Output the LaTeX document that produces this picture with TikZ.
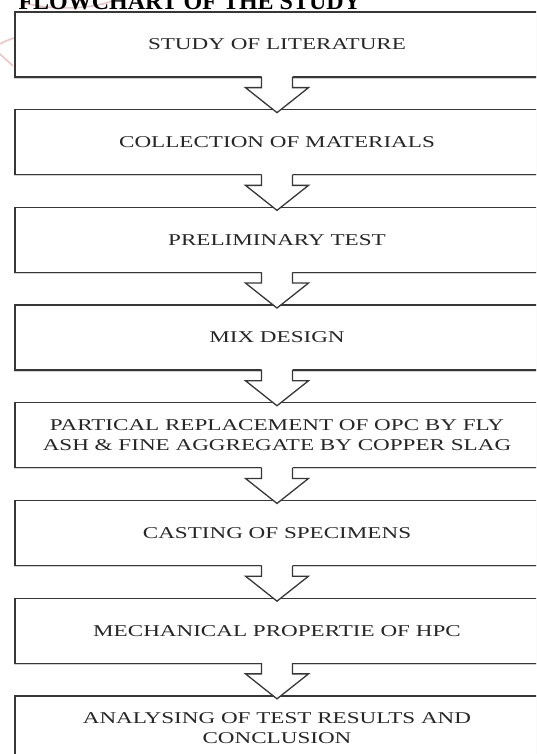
\documentclass[tikz,border=0pt]{standalone}
\usepackage{fontspec}
\setmainfont{Liberation Serif}
\newfontfamily\boxfont[FakeStretch=1.4]{Liberation Serif}
\usetikzlibrary{positioning,calc,shadows}
\definecolor{edgegray}{RGB}{55,55,55}
\definecolor{stamp}{RGB}{236,196,196}

\begin{document}
\begin{tikzpicture}[x=1pt,y=1pt,node distance=31.4pt,
    stepbox/.style={draw=edgegray,line width=1.3pt,fill=white,
      minimum width=524pt,minimum height=65pt,inner sep=0pt,align=center,
      font=\boxfont\fontsize{16.5}{20}\selectfont,text=black!85,
      drop shadow={shadow xshift=-1.2pt,shadow yshift=-1.6pt,fill=black!30,opacity=.6}},
    flowline/.style={edgegray,line width=1.3pt,line join=miter}]
\useasboundingbox (0,0) rectangle (536,-754);
\begin{scope}[overlay]
\clip (0,0) rectangle (536,-754);

\draw[stamp,line width=1.6pt] (22,-2) .. controls (45,-10) and (90,-10) .. (112,-1);
\draw[stamp,line width=1.6pt] (14,-38) .. controls (8,-40) and (3,-42) .. (0,-44);
\draw[stamp,line width=1.6pt] (0,-54) .. controls (4,-58) and (9,-62) .. (13,-66);

\node[anchor=base west,font=\bfseries\fontsize{24}{24}\selectfont] (title) at (15,-9.5) {FLOWCHART OF THE STUDY};

\node[stepbox] (lit) at (277,-44.5) {STUDY OF LITERATURE};
\node[stepbox] (col)  [below=of lit]  {COLLECTION OF MATERIALS};
\node[stepbox] (pre)  [below=of col]  {PRELIMINARY TEST};
\node[stepbox] (mix)  [below=of pre]  {MIX DESIGN};
\node[stepbox] (rep)  [below=of mix]  {PARTICAL REPLACEMENT OF OPC BY FLY\\ASH \& FINE AGGREGATE BY COPPER SLAG};
\node[stepbox] (cast) [below=of rep]  {CASTING OF SPECIMENS};
\node[stepbox] (mech) [below=of cast] {MECHANICAL PROPERTIE OF HPC};
\node[stepbox] (res)  [below=of mech] {ANALYSING OF TEST RESULTS AND\\CONCLUSION};

\foreach \a/\b in {lit/col,col/pre,pre/mix,mix/rep,rep/cast,cast/mech,mech/res}{
  \fill[white] ($(\a.south)+(-15.5,2.5)$) -- ($(\a.south)+(-15.5,-10)$) -- ($(\a.south)+(-31.5,-10)$)
    -- ($(\b.north)+(0,-3.6)$) -- ($(\a.south)+(31.5,-10)$) -- ($(\a.south)+(15.5,-10)$)
    -- ($(\a.south)+(15.5,2.5)$) -- cycle;
  \draw[flowline] ($(\a.south)+(-15.5,0.65)$) -- ($(\a.south)+(-15.5,-10)$) -- ($(\a.south)+(-31.5,-10)$)
    -- ($(\b.north)+(0,-3.6)$) -- ($(\a.south)+(31.5,-10)$) -- ($(\a.south)+(15.5,-10)$)
    -- ($(\a.south)+(15.5,0.65)$);
}
\end{scope}
\end{tikzpicture}
\end{document}
